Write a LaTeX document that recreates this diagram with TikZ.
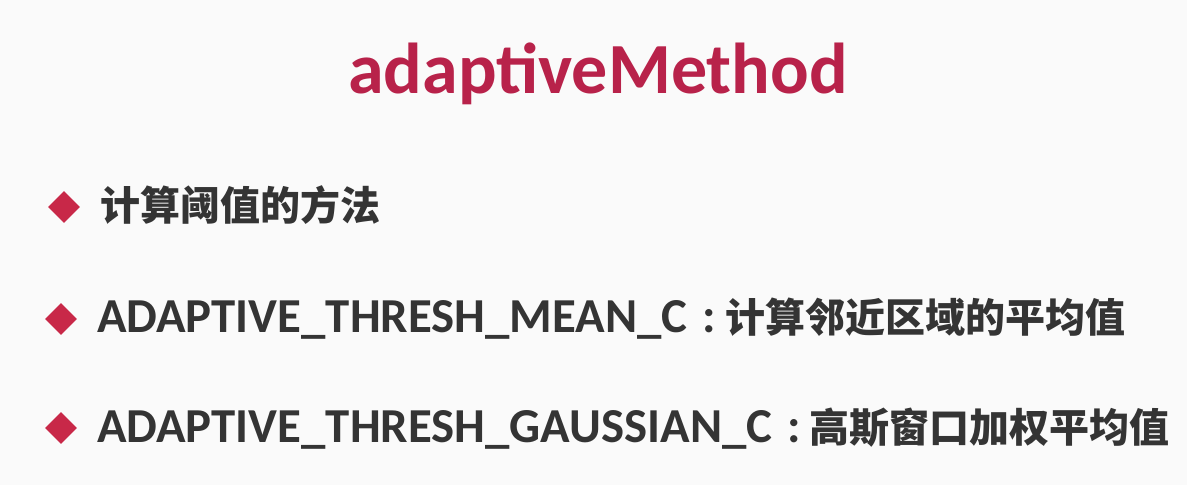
\documentclass[tikz,border=0pt]{standalone}
\usepackage{fontspec}
\usepackage{tikz}
\usetikzlibrary{shapes.geometric,positioning}

\newfontfamily\cjk{Noto Sans CJK SC}
\newfontfamily\latin{Carlito}
\definecolor{crimson}{RGB}{184,34,74}
\definecolor{bulletred}{RGB}{200,40,72}
\definecolor{ink}{RGB}{52,52,52}
\definecolor{paper}{RGB}{250,250,250}
\newcommand{\zh}[1]{{\cjk\bfseries\fontsize{40}{48}\selectfont #1}}
\newcommand{\sepcolon}{\hspace{15pt}:\hspace{9pt}}

\tikzset{
  bullet/.style={diamond, fill=bulletred, minimum width=32pt, minimum height=32pt, inner sep=0pt},
  item/.style={anchor=base west, inner sep=0pt, text=ink, font=\latin\bfseries\fontsize{48.8}{54}\selectfont},
}

\begin{document}
\begin{tikzpicture}[x=1pt,y=1pt]
	\fill[paper] (0,0) rectangle (1187,485);
	\useasboundingbox (0,0) rectangle (1187,485);
	%
	\node[anchor=base, inner sep=0pt, text=crimson, font=\latin\bfseries\fontsize{72}{80}\selectfont] (title) at (598,391) {adaptiveMethod};
	%
	\node[bullet] (b1) at (64,278) {};
	\node[item] (t1) at (100,264) {\zh{计算阈值的方法}};
	\node[bullet] (b2) at (61,166) {};
	\node[item] (t2) at (97,152) {ADAPTIVE\_THRESH\_MEAN\_C\sepcolon\zh{计算邻近区域的平均值}};
	\node[bullet] (b3) at (61,57) {};
	\node[item] (t3) at (97,42) {ADAPTIVE\_THRESH\_GAUSSIAN\_C\sepcolon\zh{高斯窗口加权平均值}};
\end{tikzpicture}
\end{document}
